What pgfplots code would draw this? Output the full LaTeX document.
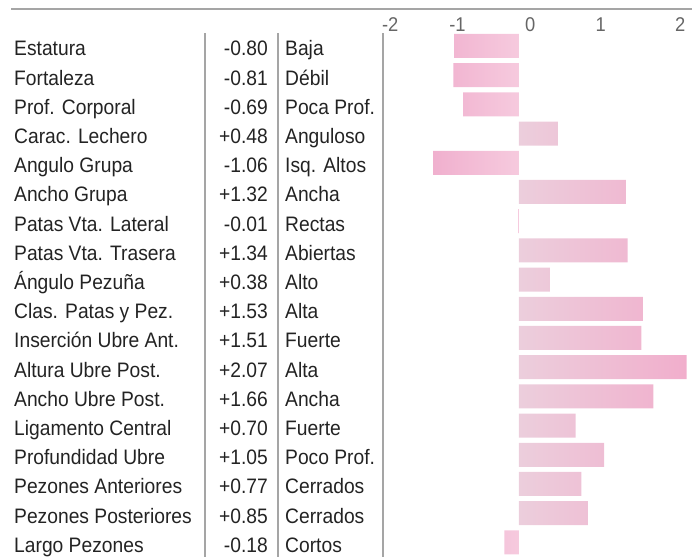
\documentclass[border=0pt]{standalone}
\usepackage{fontspec}
\setmainfont{Liberation Sans}[FakeStretch=0.92]
\usepackage{pgfplots}
\pgfplotsset{compat=1.18}

\definecolor{posL}{RGB}{236,206,220}
\definecolor{posD}{RGB}{241,174,204}
\definecolor{negL}{RGB}{246,202,222}
\definecolor{negD}{RGB}{240,176,206}
\definecolor{txt}{RGB}{35,35,35}
\definecolor{rule}{RGB}{165,165,165}

\begin{document}
\begin{tikzpicture}
\begin{scope}[x=1bp,y=1bp]
\useasboundingbox (0,0) rectangle (697,557);
% top rule
\draw[rule, line width=1.8bp] (11,548) -- (692,548);
% column separators
\foreach \xx in {205,278,383}
  \draw[rule, line width=1.8bp] (\xx,0) -- (\xx,524);
% text table
\foreach \nm/\vl/\ds [count=\i from 0] in {
  Estatura/-0.80/Baja,
  Fortaleza/-0.81/Débil,
  Prof. Corporal/-0.69/Poca Prof.,
  Carac. Lechero/+0.48/Anguloso,
  Angulo Grupa/-1.06/Isq. Altos,
  Ancho Grupa/+1.32/Ancha,
  Patas Vta. Lateral/-0.01/Rectas,
  Patas Vta. Trasera/+1.34/Abiertas,
  Ángulo Pezuña/+0.38/Alto,
  Clas. Patas y Pez./+1.53/Alta,
  Inserción Ubre Ant./+1.51/Fuerte,
  Altura Ubre Post./+2.07/Alta,
  Ancho Ubre Post./+1.66/Ancha,
  Ligamento Central/+0.70/Fuerte,
  Profundidad Ubre/+1.05/Poco Prof.,
  Pezones Anteriores/+0.77/Cerrados,
  Pezones Posteriores/+0.85/Cerrados,
  Largo Pezones/-0.18/Cortos}{
  \pgfmathsetmacro{\yy}{501-29.2*\i}
  \node[anchor=base west, inner sep=0pt, text=txt, font=\fontsize{21}{25}\selectfont] at (14,\yy) {\nm};
  \node[anchor=base east, inner sep=0pt, text=txt, font=\fontsize{21}{25}\selectfont] at (268,\yy) {\vl};
  \node[anchor=base west, inner sep=0pt, text=txt, font=\fontsize{21}{25}\selectfont] at (285,\yy) {\ds};
}
\end{scope}
\begin{axis}[
    at={(383bp,524bp)}, anchor=north west,
    scale only axis,
    width=314bp, height=524bp,
    xmin=-1.679, xmax=2.198,
    ymin=0.555, ymax=18.5,
    y dir=reverse,
    axis line style={draw=none},
    major tick length=0pt,
    ytick=\empty,
    xticklabel pos=upper,
    xtick={-1.59,-0.76,0.14,1.01,1.99},
    xticklabels={-2,-1,0,1,2},
    xticklabel style={inner sep=0pt, anchor=south, yshift=1.5bp,
      text=black!60, font=\fontsize{20}{22}\selectfont},
    clip=false,
]
% negative values: darker at the outer end, lighter at zero
\addplot[xbar, bar width=24bp, bar shift=0pt, draw=none,
  left color=negD, right color=negL]
  coordinates {(-0.80,1) (-0.81,2) (-0.69,3) (-1.06,5) (-0.01,7) (-0.18,18)};
% positive values
\addplot[xbar, bar width=24bp, bar shift=0pt, draw=none,
  left color=posL, right color=posD]
  coordinates {(0.48,4) (1.32,6) (1.34,8) (0.38,9) (1.53,10) (1.51,11)
               (2.07,12) (1.66,13) (0.70,14) (1.05,15) (0.77,16) (0.85,17)};
\end{axis}
\end{tikzpicture}
\end{document}
